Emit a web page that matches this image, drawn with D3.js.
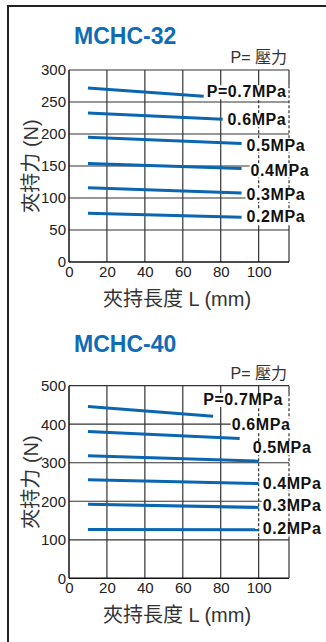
<!DOCTYPE html>
<html>
<head>
<meta charset="utf-8">
<script src="https://cdn.jsdelivr.net/npm/d3@7"></script>
<style>
body { margin: 0; background: #fff; }
text { font-family: "Liberation Sans", Arial, "Noto Sans CJK TC", sans-serif; }
</style>
</head>
<body>
<script>
// data
var pressures = ["0.7", "0.6", "0.5", "0.4", "0.3", "0.2"];
var xTicks = [0, 20, 40, 60, 80, 100];
var xMax = 116;

var yTicks32 = [0, 50, 100, 150, 200, 250, 300];
var lenStart32 = [10, 10, 10, 10, 10, 10];
var lenEnd32 = [71, 81, 91, 91, 91, 91];
var forceStart32 = [272, 233, 195, 154, 116, 76];
var forceEnd32 = [259, 223, 185, 146, 108, 70];

var yTicks40 = [0, 100, 200, 300, 400, 500];
var lenStart40 = [10, 10, 10, 10, 10, 10];
var lenEnd40 = [76, 90, 100, 100, 100, 100];
var forceStart40 = [446, 381, 318, 256, 192, 127];
var forceEnd40 = [421, 363, 304, 246, 184, 126];

// label offsets from line end (px)
var labelOff32 = [[3, 1], [5, 6], [5, 7], [9, 7], [5, 7], [5, 5]];
var labelOff40 = [[-10, -11], [-8, -8], [-6, -8], [4, 5], [4, 4], [4, 4]];

var svg = d3.select("body").append("svg")
    .attr("width", 326)
    .attr("height", 642);

// frame (top + left)
svg.append("line").attr("x1", 8).attr("y1", 6).attr("x2", 326).attr("y2", 6)
    .style("stroke", "#222").style("stroke-width", 2)
svg.append("line").attr("x1", 8).attr("y1", 5).attr("x2", 8).attr("y2", 642)
    .style("stroke", "#222").style("stroke-width", 2)

function drawChart(o) {
    var x = d3.scaleLinear().domain([0, xMax]).range([69, 289]);
    var y = d3.scaleLinear().domain([0, o.yMax]).range([o.bottom, o.top]);
    var g = svg.append("g");
    var gridLayer = g.append("g");
    var lineLayer = g.append("g");
    var labelLayer = g.append("g");

    // title
    g.append("text")
        .attr("x", 74)
        .attr("y", o.titleY)
        .text(o.title)
        .style("font-size", "23px")
        .style("font-weight", "bold")
        .style("fill", "#0f6cb6")

    g.append("text")
        .attr("x", 287)
        .attr("y", o.top - 7)
        .attr("text-anchor", "end")
        .text("P= 壓力")
        .style("font-size", "16px")
        .style("fill", "#333")

    // horizontal grid
    gridLayer.selectAll(".hgrid")
        .data(o.yTicks.filter(function (d) { return d > 0; }))
        .enter()
        .append("line")
        .attr("x1", x(0))
        .attr("x2", x(xMax))
        .attr("y1", function (d) { return y(d); })
        .attr("y2", function (d) { return y(d); })
        .style("stroke", "#333")
        .style("stroke-width", 1.2)

    // pressure lines
    var line = d3.line()
        .x(function (d) { return x(d[0]); })
        .y(function (d) { return y(d[1]); });
    var rows = pressures.map(function (p, i) {
        return {
            p: p,
            pts: [[o.lenStart[i], o.forceStart[i]], [o.lenEnd[i], o.forceEnd[i]]],
            off: o.labelOff[i]
        };
    });
    lineLayer.selectAll(".pline")
        .data(rows)
        .enter()
        .append("path")
        .attr("d", function (d) { return line(d.pts); })
        .style("fill", "none")
        .style("stroke", "#0b66b2")
        .style("stroke-width", 3)

    // labels with white boxes
    var zoneTop = Infinity, zoneBottom = -Infinity;
    rows.forEach(function (d, i) {
        var lg = labelLayer.append("g");
        var t = lg.append("text")
            .attr("x", x(d.pts[1][0]) + d.off[0])
            .attr("y", y(d.pts[1][1]) + d.off[1])
            .text((i === 0 ? "P=" : "") + d.p + "MPa")
            .style("font-size", "16px")
            .style("font-weight", "bold")
            .style("letter-spacing", "0.6px")
            .style("fill", "#111")
        var b = t.node().getBBox();
        lg.insert("rect", "text")
            .attr("x", b.x - 1)
            .attr("y", b.y + 2)
            .attr("width", b.width + 2)
            .attr("height", b.height - 3)
            .style("fill", "#fff")
        zoneTop = Math.min(zoneTop, b.y + 2);
        zoneBottom = Math.max(zoneBottom, b.y + b.height);
    });

    // vertical grid, dashed where the labels sit
    xTicks.filter(function (d) { return d > 0; }).concat([xMax]).forEach(function (v) {
        var segs = [[o.top, o.bottom, null]];
        if (v >= 100) {
            segs = [[o.top, zoneTop, null], [zoneTop, zoneBottom, "3,2"], [zoneBottom, o.bottom, null]];
        }
        segs.forEach(function (s) {
            if (s[1] <= s[0]) return;
            gridLayer.append("line")
                .attr("x1", x(v)).attr("x2", x(v))
                .attr("y1", s[0]).attr("y2", s[1])
                .style("stroke", "#333")
                .style("stroke-width", 1.2)
                .style("stroke-dasharray", s[2])
        });
    });

    // axes lines
    g.append("line")
        .attr("x1", x(0)).attr("x2", x(0))
        .attr("y1", o.top).attr("y2", o.bottom)
        .style("stroke", "#111").style("stroke-width", 1.5)
    g.append("line")
        .attr("x1", x(0)).attr("x2", x(xMax))
        .attr("y1", o.bottom).attr("y2", o.bottom)
        .style("stroke", "#111").style("stroke-width", 1.5)

    var ya = g.append("g")
        .attr("transform", "translate(" + x(0) + ",0)")
        .call(d3.axisLeft(y).tickValues(o.yTicks).tickSize(0).tickPadding(3));
    var xa = g.append("g")
        .attr("transform", "translate(0," + o.bottom + ")")
        .call(d3.axisBottom(x).tickValues(xTicks).tickSize(0).tickPadding(4));
    [ya, xa].forEach(function (a) {
        a.select(".domain").remove();
        a.selectAll("text")
            .style("font-size", "15px")
            .style("font-family", "'Liberation Sans', Arial, sans-serif")
            .style("fill", "#222");
    });

    // axis titles
    g.append("text")
        .attr("x", 177)
        .attr("y", o.bottom + 44)
        .attr("text-anchor", "middle")
        .text("夾持長度 L (mm)")
        .style("font-size", "20px")
        .style("fill", "#333")
    g.append("text")
        .attr("transform", "translate(31," + (o.top + o.bottom) / 2 + ") rotate(-90)")
        .attr("text-anchor", "middle")
        .attr("dominant-baseline", "central")
        .text("夾持力 (N)")
        .style("font-size", "20px")
        .style("fill", "#333")
}

drawChart({
    title: "MCHC-32", titleY: 44, top: 70, bottom: 262, yMax: 300, yTicks: yTicks32,
    lenStart: lenStart32, lenEnd: lenEnd32, forceStart: forceStart32, forceEnd: forceEnd32,
    labelOff: labelOff32
});
drawChart({
    title: "MCHC-40", titleY: 352, top: 385.7, bottom: 578.3, yMax: 500, yTicks: yTicks40,
    lenStart: lenStart40, lenEnd: lenEnd40, forceStart: forceStart40, forceEnd: forceEnd40,
    labelOff: labelOff40
});
</script>
</body>
</html>
